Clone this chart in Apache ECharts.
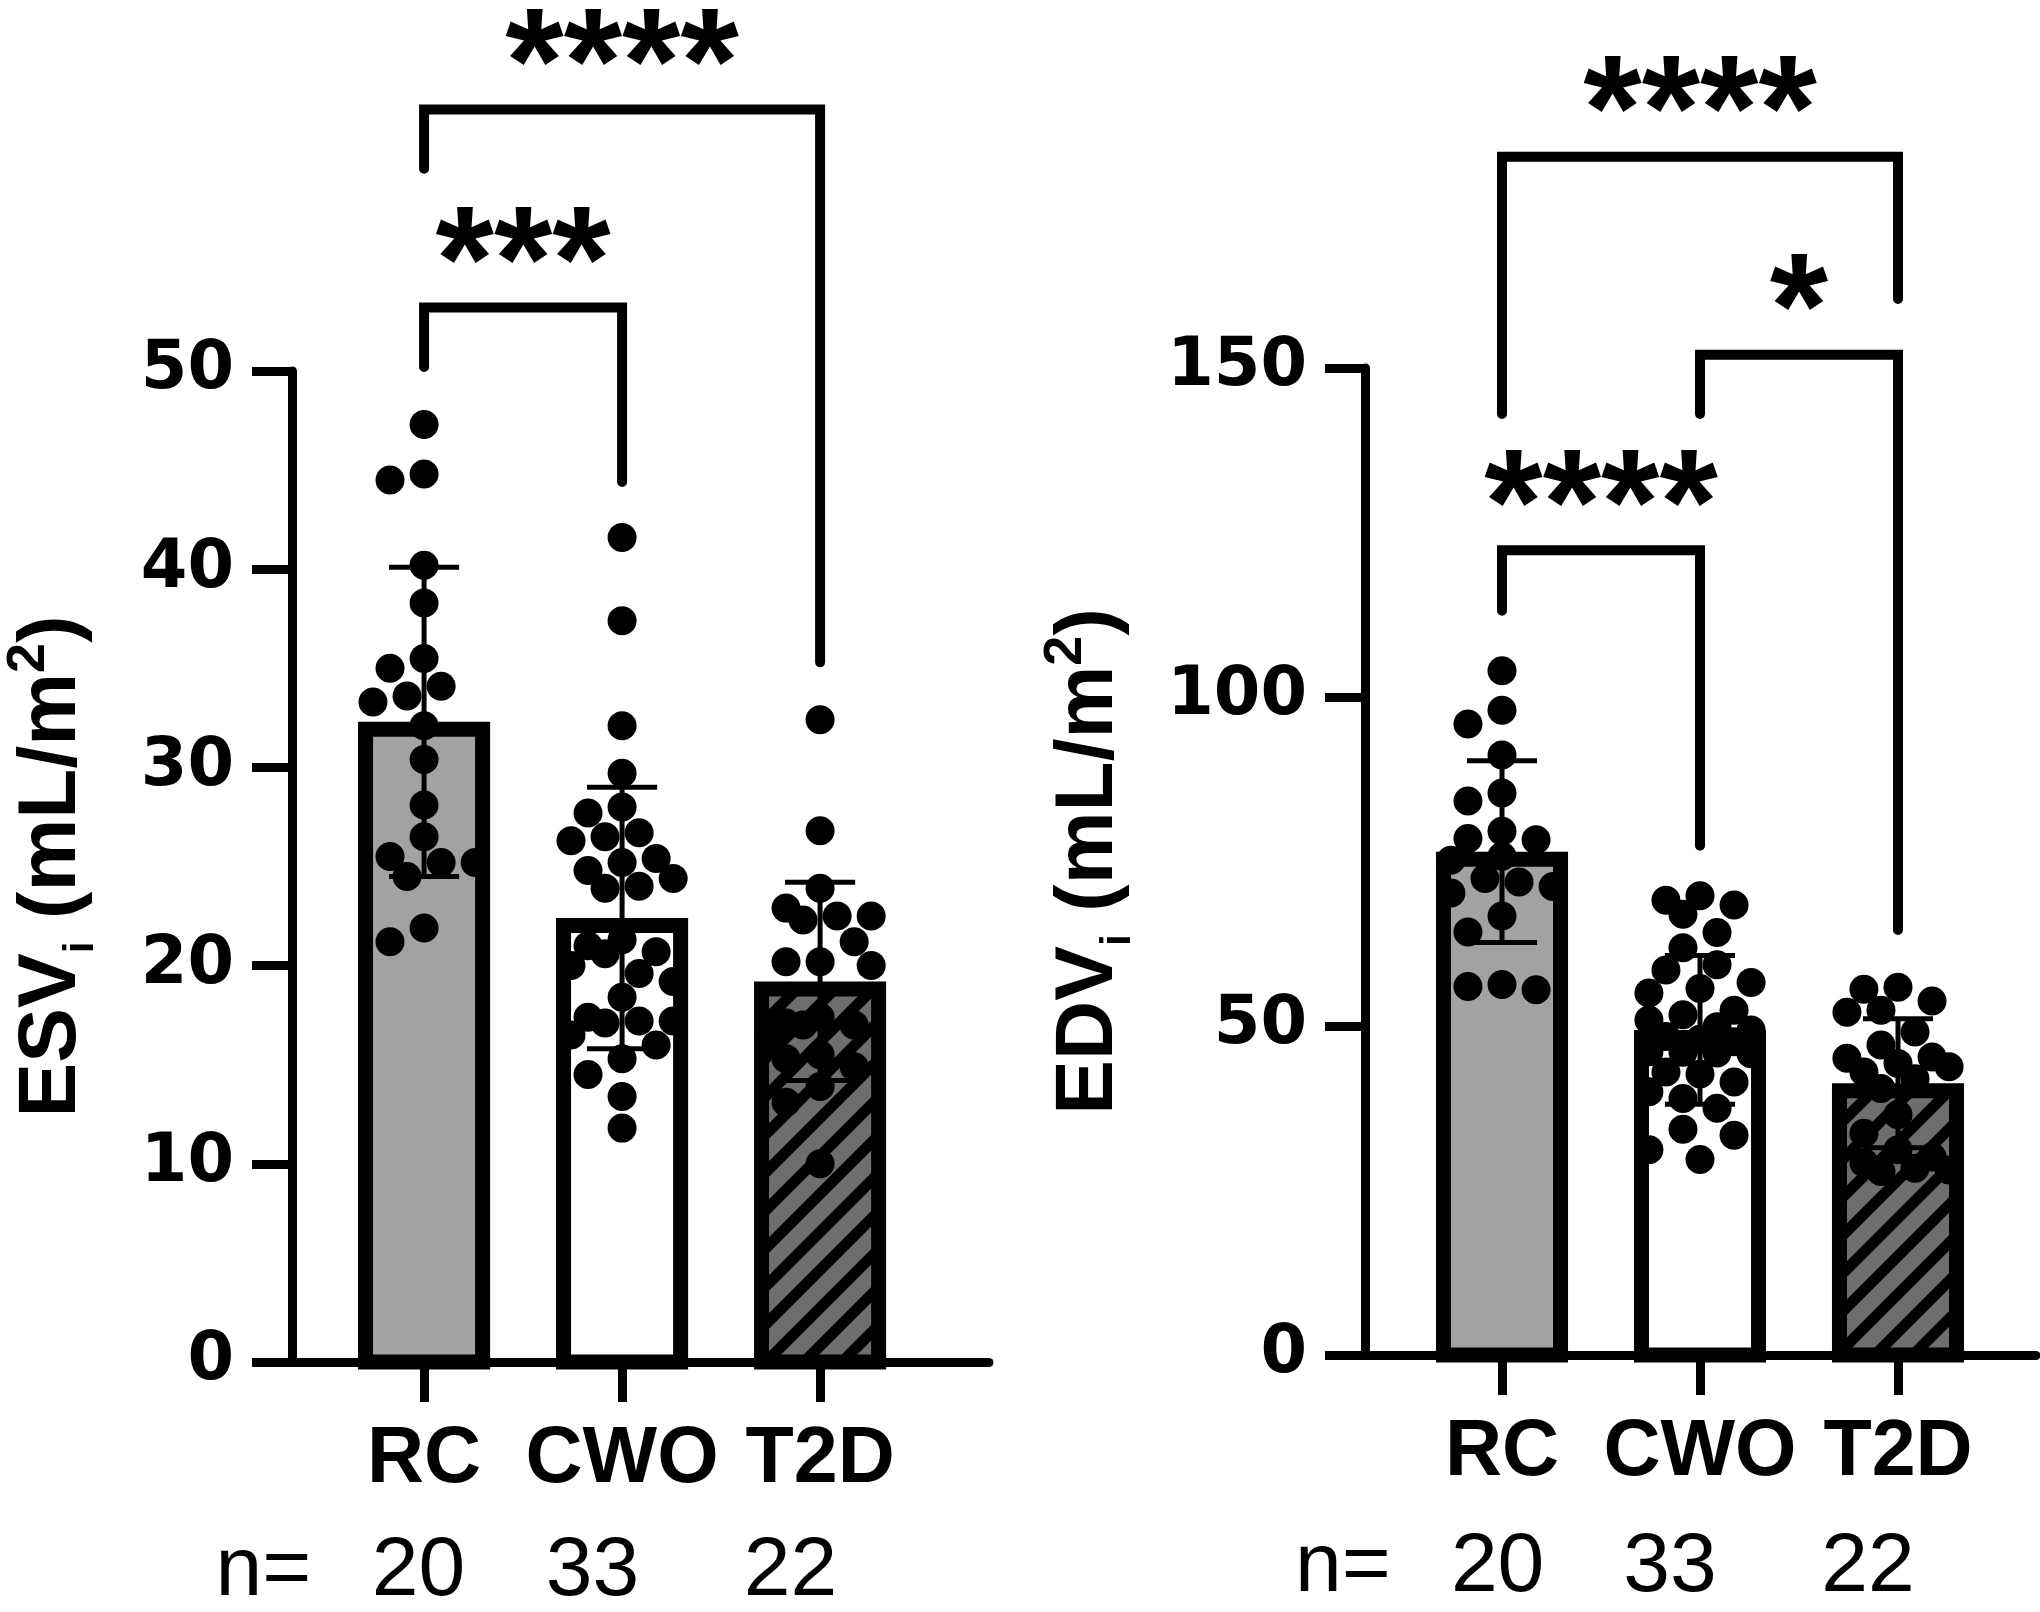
<!DOCTYPE html>
<html><head><meta charset="utf-8">
<script src="https://cdn.jsdelivr.net/npm/echarts@6/dist/echarts.min.js"></script>
<style>html,body{margin:0;padding:0;background:#fff;}#c{width:2040px;height:1612px;}</style>
</head><body><div id="c"></div>
<script>
// ---------- data ----------
const categories = ['RC', 'CWO', 'T2D'];
const sampleSizes = [20, 33, 22];

const esvTicks = [0, 10, 20, 30, 40, 50];
const esvRC  = [47.3, 44.8, 44.5, 40.2, 38.3, 35.5, 35.0, 34.1, 33.6, 33.3, 32.1, 30.4, 28.1, 26.5, 25.5, 25.2, 25.2, 24.5, 21.9, 21.2];
const esvCWO = [41.6, 37.4, 32.1, 29.7, 28.0, 27.7, 26.7, 26.5, 26.3, 25.4, 25.2, 24.8, 24.4, 24.0, 23.9, 21.3, 21.0, 20.7, 20.6, 20.0, 19.6, 19.2, 18.4, 17.4, 17.2, 17.2, 17.1, 16.5, 16.0, 15.3, 14.5, 13.4, 11.8];
const esvT2D = [32.4, 26.8, 23.9, 22.9, 22.5, 22.5, 22.3, 21.2, 20.2, 20.2, 20.0, 17.4, 17.1, 17.0, 17.0, 16.5, 15.5, 15.3, 14.9, 13.9, 13.1, 10.0];
const esvMean = [32.3, 22.4, 19.2];
const esvSD   = [7.8, 6.6, 5.0];
// brackets: [from, to, bar level, left leg end, right leg end, label]
const esvBrackets = [[0, 2, 63.2, 60.2, 35.3, '****'], [0, 1, 53.2, 50.2, 44.4, '***']];

const edvTicks = [0, 50, 100, 150];
const edvRC  = [104.0, 98.0, 95.9, 91.2, 85.4, 84.2, 79.6, 78.5, 78.3, 75.8, 75.2, 72.4, 71.9, 71.2, 70.2, 66.7, 64.3, 56.3, 56.0, 55.5];
const edvCWO = [69.8, 69.1, 68.4, 67.0, 64.2, 61.9, 59.3, 58.5, 56.6, 55.7, 55.0, 52.4, 51.7, 50.9, 49.9, 49.4, 48.4, 48.0, 47.6, 46.1, 46.0, 45.9, 45.8, 43.0, 42.7, 41.5, 40.0, 39.0, 37.5, 34.3, 33.4, 31.2, 29.7];
const edvT2D = [55.9, 55.6, 53.8, 52.4, 52.1, 49.1, 47.1, 45.3, 45.1, 44.3, 43.8, 43.0, 42.0, 40.5, 36.5, 33.7, 31.2, 30.1, 29.2, 28.4, 28.1, 27.9];
const edvMean = [76.5, 49.4, 41.3];
const edvSD   = [13.8, 11.3, 9.8];
const edvBrackets = [[0, 2, 182.1, 143.0, 160.5, '****'], [1, 2, 152.0, 143.0, 64.6, '*'], [0, 1, 122.3, 113.1, 77.4, '****']];

// ---------- styling helpers ----------
function hatchCanvas() {
  const P = 38, c = document.createElement('canvas');
  c.width = P; c.height = P;
  const g = c.getContext('2d');
  g.fillStyle = '#6e6e6e'; g.fillRect(0, 0, P, P);
  g.strokeStyle = '#000'; g.lineWidth = 11;
  g.beginPath();
  for (let k = -1; k <= 1; k++) { g.moveTo(k * P - 12, P + 12); g.lineTo(k * P + P + 12, -12); }
  g.stroke();
  return c;
}
const fills = ['#a2a2a2', '#ffffff', { image: hatchCanvas(), repeat: 'repeat' }];

const BOLD = '"Liberation Sans", Arial, sans-serif';

function makeX(gi, min, max) {
  return {
    type: 'value', gridIndex: gi, min: min, max: max,
    axisLine: { show: true, onZero: false, lineStyle: { color: '#000', width: 9 } },
    axisTick: { show: true, customValues: [0, 1, 2], length: 40, lineStyle: { color: '#000', width: 9 } },
    axisLabel: {
      show: true, customValues: [0, 1, 2], margin: 59,
      formatter: v => categories[Math.round(v)] || '',
      fontFamily: BOLD, fontWeight: 'bold', fontSize: 79, color: '#000'
    },
    splitLine: { show: false }
  };
}
function makeY(gi, ticks, nameMain, gap) {
  return {
    type: 'value', gridIndex: gi, min: ticks[0], max: ticks[ticks.length - 1],
    interval: ticks[1] - ticks[0],
    axisLine: { show: true, onZero: false, lineStyle: { color: '#000', width: 9 } },
    axisTick: { show: true, length: 40, lineStyle: { color: '#000', width: 9 } },
    axisLabel: {
      margin: 58, fontFamily: '"DejaVu Sans", sans-serif', fontWeight: 'bold',
      fontSize: 67, color: '#000', padding: [12, 0, 0, 0]
    },
    splitLine: { show: false },
    name: '{t|' + nameMain + '}{s|i}{t| (mL/m}{p|2}{t|)}',
    nameLocation: 'middle', nameRotate: 90, nameGap: gap, nameMoveOverlap: false,
    nameTextStyle: {
      rich: {
        t: { fontFamily: BOLD, fontWeight: 'bold', fontSize: 82, lineHeight: 100, color: '#000' },
        s: { fontFamily: BOLD, fontWeight: 'bold', fontSize: 42, lineHeight: 20, verticalAlign: 'bottom', color: '#000' },
        p: { fontFamily: BOLD, fontWeight: 'bold', fontSize: 54, lineHeight: 59, verticalAlign: 'top', color: '#000' }
      }
    }
  };
}

function barSeries(gi, means) {
  return {
    type: 'custom', xAxisIndex: gi, yAxisIndex: gi, z: 2, clip: false,
    data: means.map((m, i) => [i, m]),
    renderItem(params, api) {
      const i = api.value(0), v = api.value(1);
      const top = api.coord([i, v]), base = api.coord([i, 0]);
      const bw = api.size([1, 0])[0] * 0.667, lw = 15;
      return {
        type: 'rect',
        shape: { x: top[0] - bw / 2 + lw / 2, y: top[1] + lw / 2, width: bw - lw, height: base[1] - top[1] - lw / 2 },
        style: { fill: fills[i], stroke: '#000', lineWidth: lw }
      };
    }
  };
}
function errSeries(gi, means, sds) {
  return {
    type: 'custom', xAxisIndex: gi, yAxisIndex: gi, z: 3, clip: false,
    data: means.map((m, i) => [i, m, sds[i]]),
    renderItem(params, api) {
      const i = api.value(0), m = api.value(1), s = api.value(2);
      const hi = api.coord([i, m + s]), lo = api.coord([i, m - s]);
      const cw = api.size([1, 0])[0] * 0.177;
      const st = { stroke: '#000', lineWidth: 5 };
      return {
        type: 'group', children: [
          { type: 'line', shape: { x1: hi[0], y1: hi[1], x2: lo[0], y2: lo[1] }, style: st },
          { type: 'line', shape: { x1: hi[0] - cw, y1: hi[1], x2: hi[0] + cw, y2: hi[1] }, style: st },
          { type: 'line', shape: { x1: lo[0] - cw, y1: lo[1], x2: lo[0] + cw, y2: lo[1] }, style: st }
        ]
      };
    }
  };
}
function computeSwarm(data, api) {
  const out = new Array(data.length);
  const step = api.size([1, 0])[0] * 0.086;
  const D = 28;
  const ks = [0, -1, 1, -2, 2, -3, 3];
  const groups = {};
  data.forEach((d, idx) => { (groups[d[0]] = groups[d[0]] || []).push(idx); });
  Object.keys(groups).forEach(g => {
    const idxs = groups[g].slice().sort((a, b) => data[b][1] - data[a][1]);
    const placed = [];
    idxs.forEach(idx => {
      const c = api.coord([data[idx][0], data[idx][1]]);
      let best = null, bestD = -1;
      for (const k of ks) {
        const x = c[0] + k * step;
        let md = Infinity;
        for (const p of placed) md = Math.min(md, Math.hypot(p[0] - x, p[1] - c[1]));
        if (md >= D) { best = x; bestD = md; break; }
        if (md > bestD) { bestD = md; best = x; }
      }
      placed.push([best, c[1]]);
      out[idx] = [best, c[1]];
    });
  });
  return out;
}
function dotSeries(gi, groups) {
  const data = [];
  groups.forEach((arr, g) => arr.forEach(v => data.push([g, v])));
  let layout = null;
  return {
    type: 'custom', xAxisIndex: gi, yAxisIndex: gi, z: 4, clip: false, data,
    renderItem(params, api) {
      if (!layout || params.dataIndex === 0) layout = computeSwarm(data, api);
      const p = layout[params.dataIndex];
      return { type: 'circle', shape: { cx: p[0], cy: p[1], r: 14.5 }, style: { fill: '#000' } };
    }
  };
}
function bracketSeries(gi, brackets) {
  return {
    type: 'custom', xAxisIndex: gi, yAxisIndex: gi, z: 4, clip: false,
    data: brackets.map(b => [b[0], b[1], b[2], b[3], b[4]]),
    renderItem(params, api) {
      const f = api.value(0), t = api.value(1);
      const a = api.coord([f, api.value(2)]), b = api.coord([t, api.value(2)]);
      const l = api.coord([f, api.value(3)]), r = api.coord([t, api.value(4)]);
      return {
        type: 'group', children: [
          { type: 'polyline', shape: { points: [[l[0], l[1]], [a[0], a[1]], [b[0], b[1]], [r[0], r[1]]] },
            style: { stroke: '#000', lineWidth: 10, fill: null, lineCap: 'round', lineJoin: 'miter' } },
          { type: 'text', x: (a[0] + b[0]) / 2, y: a[1] - 38,
            style: { text: brackets[params.dataIndex][5], fontFamily: BOLD, fontWeight: 'bold', fontSize: 150,
              fill: '#000', align: 'center', verticalAlign: 'middle' } }
        ]
      };
    }
  };
}

// n= row
const nRowX = [[263.5, 418.5, 592.5, 790.5], [1343, 1497.6, 1670, 1868]];
const nRowY = [1572, 1568];
const nTexts = ['n='].concat(sampleSizes.map(String));
const graphics = [];
nRowX.forEach((xs, p) => xs.forEach((x, j) => graphics.push({
  type: 'text', x: x, y: nRowY[p],
  style: { text: nTexts[j], fontFamily: BOLD, fontSize: 84, fill: '#000', align: 'center', verticalAlign: 'middle' }
})));

const chart = echarts.init(document.getElementById('c'), null, { renderer: 'canvas' });
chart.setOption({
  animation: false,
  backgroundColor: '#ffffff',
  grid: [
    { left: 292, top: 371, width: 697, height: 991, outerBoundsMode: 'none' },
    { left: 1365, top: 368, width: 671, height: 987, outerBoundsMode: 'none' }
  ],
  xAxis: [makeX(0, -0.667, 2.853), makeX(1, -0.692, 2.697)],
  yAxis: [makeY(0, esvTicks, 'ESV', 190), makeY(1, edvTicks, 'EDV', 226)],
  series: [
    barSeries(0, esvMean), errSeries(0, esvMean, esvSD), dotSeries(0, [esvRC, esvCWO, esvT2D]), bracketSeries(0, esvBrackets),
    barSeries(1, edvMean), errSeries(1, edvMean, edvSD), dotSeries(1, [edvRC, edvCWO, edvT2D]), bracketSeries(1, edvBrackets)
  ],
  graphic: graphics
});
</script></body></html>
